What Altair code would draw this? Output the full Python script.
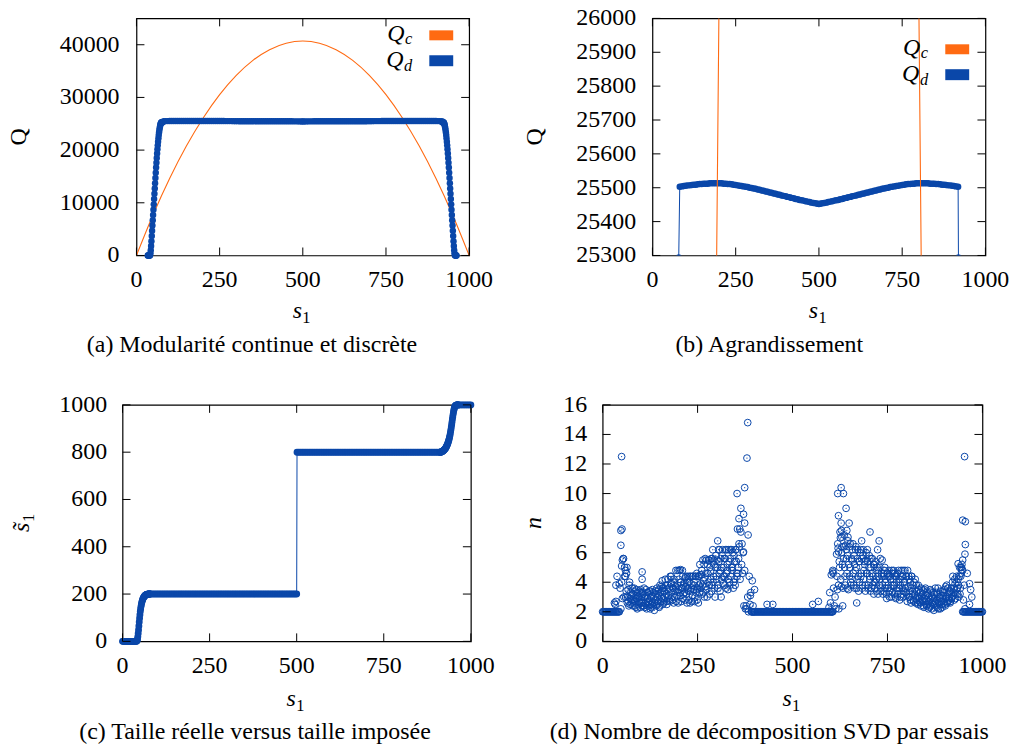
import altair as alt
import pandas as pd

FONT = "'Liberation Serif', 'Times New Roman', Times, serif"
BLUE = "#0a47a9"
ORANGE = "#ff6a12"
FS = 24
FS_SUB = 16.5

ONE = pd.DataFrame({"k": [0]})

# ---------------- tick values ----------------
S_TICKS = [0, 250, 500, 750, 1000]
Q_TICKS_A = [0, 10000, 20000, 30000, 40000]
Q_TICKS_B = [25300, 25400, 25500, 25600, 25700, 25800, 25900, 26000]
ST_TICKS = [0, 200, 400, 600, 800, 1000]
N_TICKS = [0, 2, 4, 6, 8, 10, 12, 14, 16]

# ---------------- continuous modularity Q_c ----------------
qc_s = [0, 50, 100, 150, 200, 250, 300, 350, 400, 450, 500,
        550, 600, 650, 700, 750, 800, 850, 900, 950, 1000]
qc_q = [0, 7730, 14650, 20760, 26050, 30530, 34190, 37040, 39070, 40290, 40700,
        40290, 39070, 37040, 34190, 30530, 26050, 20760, 14650, 7730, 0]

# ---------------- discrete modularity Q_d ----------------
qd_rise_s = list(range(34, 80))
qd_rise_q = [0, 0, 0, 0, 0, 0, 0,
             100, 400, 1000, 1800, 2700, 3700, 4700, 5700, 6700, 7700,
             8700, 9700, 10700, 11700, 12700, 13700, 14700, 15700, 16700, 17600,
             18500, 19350, 20150, 20900, 21600, 22250, 22850, 23400, 23850, 24250,
             24580, 24850, 25050, 25180, 25240, 25270, 25285, 25290, 25294]

qd_plat_s = list(range(82, 497, 6)) + [500] + list(range(504, 919, 6))
qd_plat_q = [25503, 25504, 25505, 25506, 25507, 25507, 25508, 25509, 25509, 25510,
             25511, 25511, 25512, 25512, 25512, 25513, 25513, 25513, 25513, 25513,
             25513, 25513, 25512, 25512, 25511, 25511, 25510, 25509, 25508, 25507,
             25506, 25505, 25504, 25503, 25502, 25500, 25499, 25498, 25497, 25495,
             25494, 25492, 25491, 25489, 25488, 25486, 25485, 25483, 25482, 25480,
             25479, 25477, 25476, 25475, 25473, 25472, 25470, 25469, 25467, 25466,
             25464, 25463, 25462, 25460, 25459, 25458, 25456, 25455, 25454, 25453,
             25452,
             25453, 25454, 25455, 25456, 25458, 25459, 25460, 25462, 25463, 25464,
             25466, 25467, 25469, 25470, 25472, 25473, 25475, 25476, 25477, 25479,
             25480, 25482, 25483, 25485, 25486, 25488, 25489, 25491, 25492, 25494,
             25495, 25497, 25498, 25499, 25500, 25502, 25503, 25504, 25505, 25506,
             25507, 25508, 25509, 25510, 25511, 25511, 25512, 25512, 25513, 25513,
             25513, 25513, 25513, 25513, 25513, 25512, 25512, 25512, 25511, 25511,
             25510, 25509, 25509, 25508, 25507, 25507, 25506, 25505, 25504, 25503]

qd_drop_s = list(range(919, 963))
qd_drop_q = [25294, 25290, 25285, 25270, 25240, 25180, 25050, 24850, 24580, 24250,
             23850, 23400, 22850, 22250, 21600, 20900, 20150, 19350, 18500, 17600,
             16700, 15700, 14700, 13700, 12700, 11700, 10700, 9700, 8700, 7700,
             6700, 5700, 4700, 3700, 2700, 1800, 1000, 400, 100, 0,
             0, 0, 0, 0]

# ---------------- real size vs imposed size ----------------
st_low_s = list(range(0, 41, 2))            # s~1 = 0
st_rise1_s = list(range(41, 80))
st_rise1_v = [1, 4, 10, 20, 33, 48, 65, 82, 98, 113,
              126, 137, 147, 155, 162, 168, 173, 177, 181, 184,
              187, 189, 191, 193, 194, 195, 196, 197, 198, 198,
              199, 199, 199, 200, 200, 200, 200, 200, 200]
st_200_s = list(range(80, 501, 5))          # s~1 = 200
st_800_s = list(range(501, 912, 5))         # s~1 = 800
st_rise2_s = list(range(912, 965))
st_rise2_v = [800, 800, 801, 801, 802, 802, 803, 804, 805,
              806, 807, 809, 810, 812, 814, 816, 818, 821, 824,
              827, 830, 834, 838, 842, 847, 852, 858, 864, 871,
              879, 888, 897, 907, 917, 928, 939, 949, 959, 968,
              976, 983, 988, 992, 995, 997, 998, 999, 1000, 1000,
              1000, 1000, 1000, 1000]
st_top_s = list(range(965, 1001, 5))        # s~1 = 1000

# ---------------- SVD decompositions per trial ----------------
n_flat_lo_s = list(range(0, 45, 2))
n_flat_mid_s = list(range(392, 608, 2))
n_flat_hi_s = list(range(948, 1001, 2))

nA_s = list(range(46, 400, 2))
nA_v = [3.6, 2.2, 4.0, 2.9, 5.6, 3.0, 4.4,
        4.4, 3.4, 5.0, 3.0, 2.7, 3.8, 2.5, 3.3, 2.8, 3.6,
        2.4, 3.1, 2.7, 3.4, 2.3, 2.9, 3.3, 2.5, 3.0, 2.6,
        3.5, 2.8, 2.4, 3.2, 2.4, 3.0, 2.6, 3.5, 2.2, 2.9,
        3.3, 2.5, 2.8, 3.4, 2.3, 3.1, 2.6, 3.3, 2.1, 2.8,
        3.2, 2.5, 3.0, 2.7, 3.5, 2.4, 3.3, 3.7, 2.9, 3.6,
        2.6, 3.4, 3.0, 3.8, 2.7, 3.5, 4.2, 3.1, 2.8, 4.4,
        3.3, 3.9, 2.8, 3.6, 4.2, 3.0, 3.7, 2.7, 3.4, 4.8,
        3.5, 4.8, 3.1, 4.0, 3.6, 4.8, 2.9, 3.8, 3.3, 4.3,
        3.7, 2.6, 4.4, 3.4, 4.0, 2.6, 4.4, 3.6, 3.1, 4.4,
        3.8, 2.7, 4.4, 3.3, 4.6, 3.6, 2.6, 4.4, 5.2, 3.9,
        4.5, 3.2, 5.5, 4.1, 3.0, 5.6, 4.6, 3.5, 5.2, 4.0,
        5.5, 3.2, 4.7, 5.6, 3.8, 6.2, 4.4, 5.2, 3.0, 5.8,
        4.2, 5.0, 3.6, 5.4, 6.2, 4.8, 3.0, 5.0, 6.2, 4.4,
        5.6, 3.8, 6.2, 4.6, 5.2, 3.5, 6.2, 4.0, 5.6, 4.4,
        6.2, 5.0, 3.6, 5.8, 4.2, 6.2, 5.4, 4.4, 4.6, 5.6,
        6.4, 4.2, 7.4, 5.2, 4.6, 6.0, 2.4, 4.8, 2.2, 2.4,
        2.2, 3.0, 2.0, 4.4, 2.5, 3.3, 2.0, 4.1, 2.4, 2.0]

nA2_s = list(range(61, 360, 2))
nA2_v = [3.0, 4.6, 2.6, 3.5, 2.4, 4.0, 2.9, 3.1, 2.6, 3.2,
         2.8, 3.6, 2.4, 2.9, 3.5, 2.2, 3.0, 2.7, 3.4, 2.3,
         3.0, 2.6, 3.3, 2.4, 3.6, 2.3, 3.0, 2.7, 3.3, 2.4,
         2.7, 3.4, 2.2, 3.0, 2.5, 3.5, 2.4, 3.0, 2.6, 3.4,
         2.4, 3.6, 2.6, 3.2, 2.3, 3.8, 2.7, 3.0, 3.4, 2.5,
         3.6, 2.8, 4.2, 3.2, 2.5, 3.8, 3.0, 3.6, 2.7, 3.9,
         4.4, 3.0, 3.6, 2.6, 4.0, 3.4, 4.8, 3.1, 3.8, 2.6,
         4.2, 3.3, 4.0, 2.7, 3.6, 4.4, 3.2, 3.9, 2.8, 4.4,
         3.2, 4.0, 3.6, 2.8, 4.4, 3.4, 3.9, 2.7, 4.4, 3.5,
         4.0, 3.0, 4.4, 3.5, 2.8, 4.4, 3.8, 3.3, 4.5, 3.6,
         4.8, 3.8, 3.3, 5.2, 4.3, 3.7, 5.5, 3.0, 4.6, 5.5,
         3.8, 5.0, 4.2, 3.4, 5.6, 4.0, 5.5, 3.6, 5.0, 4.4,
         5.5, 3.8, 6.2, 4.6, 3.4, 5.6, 4.2, 5.8, 3.9, 5.0,
         4.4, 5.6, 3.6, 6.2, 4.8, 4.2, 5.4, 3.8, 6.2, 5.0,
         4.8, 6.0, 4.0, 5.4, 3.8, 6.2, 4.6, 7.6, 5.0, 6.6]

nB_s = list(range(596, 956, 2))
nB_v = [2.3, 3.3, 2.6, 4.5, 2.0, 4.7, 3.6, 2.4, 3.0, 2.2,
        5.9, 3.5, 6.3, 2.2, 5.0, 7.0, 3.7, 6.4, 2.4, 5.6,
        7.2, 4.4, 6.5, 5.6, 3.6, 6.8, 5.2, 4.4, 6.6, 3.8,
        5.5, 6.2, 4.6, 5.8, 3.6, 6.2, 5.0, 4.2, 6.2, 3.4,
        5.4, 6.0, 4.4, 5.6, 3.8, 6.2, 4.8, 5.2, 3.4, 6.0,
        4.6, 5.4, 3.6, 5.8, 4.2, 5.0, 3.6, 5.6, 4.4, 3.2,
        5.2, 4.0, 4.8, 3.4, 6.2, 4.4, 3.8, 5.0, 3.6, 4.6,
        5.5, 3.2, 4.4, 4.8, 3.6, 4.2, 2.9, 4.6, 3.8, 4.8,
        3.4, 4.2, 3.0, 4.6, 3.8, 4.8, 3.2, 4.4, 2.9, 4.0,
        4.6, 3.4, 4.2, 2.8, 3.8, 4.8, 3.2, 4.4, 3.0, 4.0,
        4.8, 3.3, 4.4, 2.7, 3.7, 4.4, 3.0, 4.0, 2.6, 4.4,
        3.4, 2.8, 4.0, 3.2, 2.6, 3.8, 3.0, 2.5, 3.5, 2.9,
        3.3, 2.4, 3.0, 2.7, 3.4, 2.3, 2.9, 3.6, 2.5, 2.8,
        3.2, 2.2, 2.7, 3.5, 2.4, 3.0, 2.6, 3.3, 2.1, 2.9,
        3.6, 2.4, 2.8, 3.2, 2.2, 3.0, 2.5, 3.4, 2.7, 2.3,
        3.1, 2.6, 3.5, 2.4, 2.9, 3.8, 2.6, 3.2, 2.8, 3.4,
        2.7, 3.6, 3.0, 4.4, 3.3, 2.8, 3.9, 3.2, 4.4, 3.6,
        4.2, 3.0, 5.0, 3.6, 4.6, 5.2, 4.8, 2.8, 3.8, 2.2]

nB2_s = list(range(617, 946, 2))
nB2_v = [4.4, 6.6, 3.8, 5.4, 7.4, 4.2, 6.0, 5.2, 3.6, 6.4,
         5.0, 3.8, 6.2, 4.6, 5.8, 3.5, 6.4, 5.0, 4.0, 5.6,
         4.2, 6.6, 3.8, 5.2, 4.8, 6.4, 3.6, 5.6, 4.4, 5.4,
         4.0, 6.2, 4.6, 3.6, 5.8, 4.2, 5.4, 3.8, 5.5, 4.6,
         6.2, 3.8, 5.0, 4.4, 3.4, 5.6, 4.6, 3.8, 5.2, 4.0,
         3.6, 5.4, 4.2, 5.0, 3.2, 4.8, 4.2, 5.6, 3.4, 4.4,
         3.8, 4.6, 3.4, 5.0, 4.0, 3.2, 4.6, 3.6, 4.4, 3.0,
         4.4, 3.6, 4.8, 3.3, 4.2, 3.8, 4.6, 3.0, 4.4, 3.6,
         3.2, 4.8, 3.6, 4.2, 3.0, 4.4, 3.6, 4.8, 3.4, 3.8,
         3.6, 4.4, 3.2, 4.8, 3.0, 4.2, 3.4, 2.8, 4.4, 3.2,
         3.8, 2.7, 3.5, 4.2, 2.9, 3.4, 2.6, 3.8, 3.0, 2.7,
         2.6, 3.6, 2.8, 3.2, 2.4, 3.5, 2.7, 3.1, 2.4, 3.3,
         2.5, 3.0, 2.3, 2.8, 3.4, 2.2, 2.9, 2.5, 3.2, 2.6,
         2.7, 3.3, 2.3, 3.6, 2.6, 2.9, 2.2, 3.1, 2.5, 3.4,
         2.8, 3.3, 2.5, 3.7, 3.0, 2.7, 3.6, 2.9, 3.3, 2.6,
         3.4, 2.9, 4.0, 3.1, 3.6, 4.2, 2.9, 3.5, 4.0, 3.2,
         3.8, 4.4, 3.2, 4.4, 5.0]

n_peak_s = [31, 33, 35, 35, 38, 44, 48, 50, 48, 51, 50, 52, 55, 58, 60, 104, 104, 157, 205, 303,
            354, 374, 364, 371, 359, 374, 361, 383, 367, 371, 380, 382, 400, 389, 433, 448,
            553, 568, 606, 607, 628, 619, 634, 641, 621, 628, 649, 629, 643, 630, 646, 704, 728, 682, 621, 669,
            953, 948, 955, 955, 954, 948, 936, 943, 946, 960, 966, 969, 972, 966]
n_peak_v = [2.6, 2.5, 2.7, 3.8, 4.4, 3.9, 6.5, 5.1, 7.5, 7.6, 12.5, 5.5, 5.6, 5.0, 4.8, 4.7, 4.2, 4.1, 4.85, 6.8,
            10.0, 10.4, 9.0, 8.6, 8.3, 8.0, 7.6, 7.2, 6.6, 6.05, 12.4, 14.8, 3.5, 3.1, 2.5, 2.5,
            2.5, 2.7, 4.8, 4.6, 10.4, 10.0, 10.0, 9.0, 8.5, 8.0, 8.0, 7.5, 7.5, 7.05, 7.05, 7.4, 6.8, 6.8, 6.05, 2.6,
            12.5, 8.2, 8.1, 6.55, 5.9, 5.5, 5.25, 5.0, 4.85, 4.6, 3.9, 3.5, 3.0, 2.5]

# ---------------- tables ----------------
qc_df = pd.DataFrame({"s": qc_s, "q": qc_q})
qd_df = pd.DataFrame({"s": qd_rise_s + qd_plat_s + qd_drop_s,
                      "q": qd_rise_q + qd_plat_q + qd_drop_q})
st_df = pd.DataFrame({
    "s": st_low_s + st_rise1_s + st_200_s + st_800_s + st_rise2_s + st_top_s,
    "v": [0] * len(st_low_s) + st_rise1_v + [200] * len(st_200_s)
         + [800] * len(st_800_s) + st_rise2_v + [1000] * len(st_top_s),
})
n_flat = n_flat_lo_s + n_flat_mid_s + n_flat_hi_s
n_df = pd.DataFrame({
    "s": n_flat + nA_s + nA2_s + nB_s + nB2_s + n_peak_s,
    "n": [2] * len(n_flat) + nA_v + nA2_v + nB_v + nB2_v + n_peak_v,
})


# ---------------- helpers ----------------
def text(t, x, y, size=FS, style="normal", align="center", baseline="middle", angle=None):
    kw = dict(text=t, font=FONT, fontSize=size, fontStyle=style, align=align,
              baseline=baseline, color="black")
    if angle:
        kw["angle"] = angle
    return alt.Chart(ONE).mark_text(**kw).encode(x=alt.value(x), y=alt.value(y))


def box(x1, x2, y1, y2, color):
    return alt.Chart(ONE).mark_rect(color=color).encode(
        x=alt.value(x1), x2=alt.value(x2), y=alt.value(y1), y2=alt.value(y2))


def pin(x, y):
    # invisible corner marker that fixes the extent of a panel
    return alt.Chart(ONE).mark_rule(strokeOpacity=0).encode(
        x=alt.value(x), x2=alt.value(x + 0.01), y=alt.value(y))


def spacer():
    return alt.Chart(ONE).mark_rule(strokeOpacity=0).encode(
        x=alt.value(0), x2=alt.value(0.01), y=alt.value(0)
    ).properties(width=1, height=1, view=alt.ViewBackground(stroke=None))


def frame_ticks(xs, ys, xt, yt, w, h, ygap=15.5, xgap=24.5):
    """Inward ticks on all four sides plus numeric tick labels."""
    L = 8
    xdf = pd.DataFrame({"t": xt, "lab": [str(v) for v in xt]})
    ydf = pd.DataFrame({"t": yt, "lab": [str(v) for v in yt]})
    X = alt.X("t:Q", scale=xs, axis=None)
    Y = alt.Y("t:Q", scale=ys, axis=None)
    bottom = alt.Chart(xdf).mark_rule(color="black").encode(x=X, y=alt.value(h), y2=alt.value(h - L))
    top = alt.Chart(xdf).mark_rule(color="black").encode(x=X, y=alt.value(0), y2=alt.value(L))
    left = alt.Chart(ydf).mark_rule(color="black").encode(y=Y, x=alt.value(0), x2=alt.value(L))
    right = alt.Chart(ydf).mark_rule(color="black").encode(y=Y, x=alt.value(w), x2=alt.value(w - L))
    xlab = alt.Chart(xdf).mark_text(font=FONT, fontSize=FS, align="center", baseline="middle",
                                    color="black").encode(x=X, y=alt.value(h + xgap), text="lab:N")
    ylab = alt.Chart(ydf).mark_text(font=FONT, fontSize=FS, align="right", baseline="middle",
                                    color="black").encode(y=Y, x=alt.value(-ygap), text="lab:N")
    return [bottom, top, left, right, xlab, ylab]


def s1_title(cx, base):
    return [text("s", cx - 5.5, base, style="italic", baseline="alphabetic"),
            text("1", cx - 0.5, base + 5, size=FS_SUB, align="left", baseline="alphabetic")]


def legend(dy):
    return [
        text("Q", 269, 22.5 + dy, style="italic", align="right", baseline="alphabetic"),
        text("c", 269.5, 26 + dy, size=FS_SUB, style="italic", align="left", baseline="alphabetic"),
        box(294, 318, 12 + dy, 22 + dy, ORANGE),
        text("Q", 268, 49 + dy, style="italic", align="right", baseline="alphabetic"),
        text("d", 268.5, 52.5 + dy, size=FS_SUB, style="italic", align="left", baseline="alphabetic"),
        box(294, 318, 37 + dy, 48 + dy, BLUE),
    ]


def modularity(xs, ys, clip):
    enc = dict(x=alt.X("s:Q", scale=xs, axis=None), y=alt.Y("q:Q", scale=ys, axis=None))
    qc_line = alt.Chart(qc_df).mark_line(color=ORANGE, strokeWidth=1.1,
                                         interpolate="monotone", clip=clip).encode(**enc)
    qd_line = alt.Chart(qd_df).mark_line(color=BLUE, strokeWidth=1, clip=clip).encode(**enc)
    qd_pts = alt.Chart(qd_df).mark_circle(color=BLUE, size=42, opacity=1, clip=clip).encode(**enc)
    return qc_line, qd_line, qd_pts


# ---------------- (a) continuous vs discrete modularity ----------------
W_A, H_A = 334, 238
xs_a = alt.Scale(domain=[0, 1000], nice=False, zero=False)
ys_a = alt.Scale(domain=[0, 45000], nice=False, zero=False)
qc_a, qdl_a, qdp_a = modularity(xs_a, ys_a, False)
panel_a = alt.layer(
    qc_a, qdl_a, qdp_a,
    *frame_ticks(xs_a, ys_a, S_TICKS, Q_TICKS_A, W_A, H_A, ygap=17),
    *legend(0),
    *s1_title(W_A / 2, 300.7),
    text("Q", -111, H_A / 2, baseline="alphabetic", angle=270),
    text("(a) Modularité continue et discrète", 116, 328),
    pin(-135, -16), pin(372, 357),
).properties(width=W_A, height=H_A)

# ---------------- (b) zoom on the plateau ----------------
W_B, H_B = 334.3, 238
xs_b = alt.Scale(domain=[0, 1000], nice=False, zero=False)
ys_b = alt.Scale(domain=[25300, 26000], nice=False, zero=False)
qc_b, qdl_b, qdp_b = modularity(xs_b, ys_b, True)
panel_b = alt.layer(
    qdl_b, qdp_b, qc_b,
    *frame_ticks(xs_b, ys_b, S_TICKS, Q_TICKS_B, W_B, H_B, ygap=16.4),
    *legend(14),
    *s1_title(W_B / 2, 300.7),
    text("Q", -110.7, H_B / 2, baseline="alphabetic", angle=270),
    text("(b) Agrandissement", 117.3, 328),
    pin(-143.7, -16), pin(364.3, 357),
).properties(width=W_B, height=H_B)

# ---------------- (c) real size vs imposed size ----------------
W_C, H_C = 349.7, 237.4
xs_c = alt.Scale(domain=[0, 1000], nice=False, zero=False)
ys_c = alt.Scale(domain=[0, 1000], nice=False, zero=False)
enc_c = dict(x=alt.X("s:Q", scale=xs_c, axis=None), y=alt.Y("v:Q", scale=ys_c, axis=None))
panel_c = alt.layer(
    alt.Chart(st_df).mark_line(color=BLUE, strokeWidth=1).encode(**enc_c),
    alt.Chart(st_df).mark_circle(color=BLUE, size=48, opacity=1).encode(**enc_c),
    *frame_ticks(xs_c, ys_c, S_TICKS, ST_TICKS, W_C, H_C),
    *s1_title(W_C / 2, 302.4),
    text("s\u0303", -94, 127.7, style="italic", align="left", baseline="alphabetic", angle=270),
    text("1", -89, 117.5, size=FS_SUB, align="left", baseline="alphabetic", angle=270),
    text("(c) Taille réelle versus taille imposée", 133, 328.5),
    pin(-121, -29.3), pin(386, 343.7),
).properties(width=W_C, height=H_C)

# ---------------- (d) number of SVD per trial ----------------
W_D, H_D = 381.3, 237.4
xs_d = alt.Scale(domain=[0, 1000], nice=False, zero=False)
ys_d = alt.Scale(domain=[0, 16], nice=False, zero=False)
enc_d = dict(x=alt.X("s:Q", scale=xs_d, axis=None), y=alt.Y("n:Q", scale=ys_d, axis=None))
panel_d = alt.layer(
    alt.Chart(n_df).mark_point(shape="circle", filled=False, color=BLUE, size=46,
                               strokeWidth=1, opacity=1).encode(**enc_d),
    alt.Chart(n_df).mark_circle(color=BLUE, size=1.5, opacity=1).encode(**enc_d),
    *frame_ticks(xs_d, ys_d, S_TICKS, N_TICKS, W_D, H_D),
    *s1_title(W_D / 2, 302.4),
    text("n", -62, H_D / 2, style="italic", baseline="alphabetic", angle=270),
    text("(d) Nombre de décomposition SVD par essais", 167.3, 328.5),
    pin(-93.7, -29.3), pin(414.3, 343.7),
).properties(width=W_D, height=H_D)

row1 = alt.hconcat(spacer(), panel_a, panel_b, spacing=0)
row2 = alt.hconcat(spacer(), panel_c, panel_d, spacing=0)
chart = (
    alt.vconcat(row1, row2, spacing=0)
    .properties(padding=0, background="white")
    .configure_view(stroke="black", strokeWidth=1.2)
)

chart.save("out.html", embed_options={"renderer": "svg", "actions": False})
